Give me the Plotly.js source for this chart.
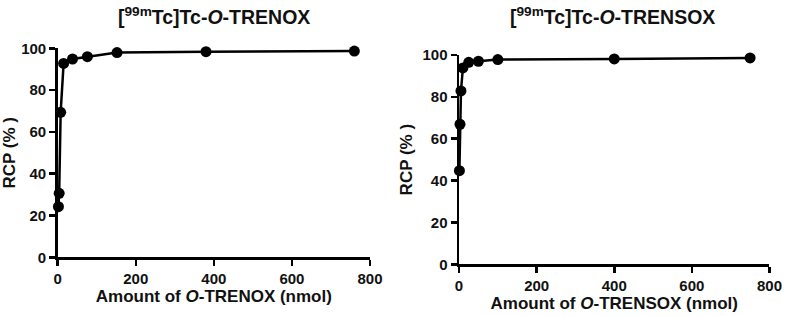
<!DOCTYPE html>
<html>
<head>
<meta charset="utf-8">
<script src="https://cdn.plot.ly/plotly-3.0.1.min.js"></script>
<style>html,body{margin:0;padding:0;background:#fff}#chart{width:786px;height:316px}</style>
</head>
<body>
<div id="chart"></div>
<script>
// Left panel: O-TRENOX
const trenoxAmount = [1.9, 3.8, 7.6, 15.2, 38, 76, 152, 380, 760];
const trenoxRCP    = [24.2, 30.6, 69.4, 92.8, 94.9, 96.0, 98.0, 98.4, 98.7];
// Right panel: O-TRENSOX
const trensoxAmount = [1, 2.5, 5, 10, 25, 50, 100, 400, 750];
const trensoxRCP    = [44.7, 66.9, 82.8, 93.8, 96.5, 97.0, 97.8, 98.1, 98.6];

const xTicks = [0, 200, 400, 600, 800];
const yTicks = [0, 20, 40, 60, 80, 100];

const titleLeft = "<b>[<sup>99m</sup>Tc]Tc-<i>O</i>-TRENOX</b>";
const titleRight = "<b>[<sup>99m</sup>Tc]Tc-<i>O</i>-TRENSOX</b>";
const xLabelLeft = "<b>Amount of <i>O</i>-TRENOX (nmol)</b>";
const xLabelRight = "<b>Amount of <i>O</i>-TRENSOX (nmol)</b>";
const yLabel = "<b>RCP (% )</b>";

const fontFam = "Liberation Sans, Arial, sans-serif";
const tickFont = {family: fontFam, size: 15, color: '#111'};

function trace(x, y, xa, ya) {
  return {
    x: x, y: y, xaxis: xa, yaxis: ya, type: 'scatter', mode: 'lines+markers',
    line: {color: '#000', width: 2.5},
    marker: {color: '#000', size: 11, symbol: 'circle'},
    cliponaxis: false, showlegend: false, hoverinfo: 'skip'
  };
}

function xAxis(domain, anchor, label) {
  return {
    domain: domain, anchor: anchor, range: [0, 800],
    tickvals: xTicks, ticktext: xTicks.map(v => '<b>' + v + '</b>'),
    showgrid: false, zeroline: false, showline: true, linecolor: '#000', linewidth: 2.5,
    ticks: 'outside', ticklen: 6, tickwidth: 2.5, tickcolor: '#000',
    tickfont: tickFont,
    title: {text: label, font: {family: fontFam, size: 17, color: '#111'}, standoff: 3}
  };
}
function yAxis(domain, anchor) {
  return {
    domain: domain, anchor: anchor, range: [0, 100],
    tickvals: yTicks, ticktext: yTicks.map(v => '<b>' + v + '</b>'),
    showgrid: false, zeroline: false, showline: true, linecolor: '#000', linewidth: 2.5,
    ticks: 'outside', ticklen: 6, tickwidth: 2.5, tickcolor: '#000',
    tickfont: tickFont,
    title: {text: yLabel, font: {family: fontFam, size: 17, color: '#111'}, standoff: 6}
  };
}

const data = [
  trace(trenoxAmount, trenoxRCP, 'x', 'y'),
  trace(trensoxAmount, trensoxRCP, 'x2', 'y2')
];

const layout = {
  width: 786, height: 316,
  margin: {l: 0, r: 0, t: 0, b: 0},
  paper_bgcolor: '#fff', plot_bgcolor: '#fff',
  xaxis: xAxis([0.0734, 0.4707], 'y', xLabelLeft),
  yaxis: yAxis([0.1858, 0.847], 'x'),
  xaxis2: xAxis([0.584, 0.979], 'y2', xLabelRight),
  yaxis2: yAxis([0.1636, 0.826], 'x2'),
  annotations: [
    {text: titleLeft, xref: 'paper', yref: 'paper', x: 214/786, y: 1 - 16/316,
     xanchor: 'center', yanchor: 'middle', showarrow: false,
     font: {family: fontFam, size: 19.5, color: '#111'}},
    {text: titleRight, xref: 'paper', yref: 'paper', x: 612/786, y: 1 - 16/316,
     xanchor: 'center', yanchor: 'middle', showarrow: false,
     font: {family: fontFam, size: 19.5, color: '#111'}}
  ]
};

Plotly.newPlot('chart', data, layout, {displayModeBar: false, staticPlot: true});
</script>
</body>
</html>
